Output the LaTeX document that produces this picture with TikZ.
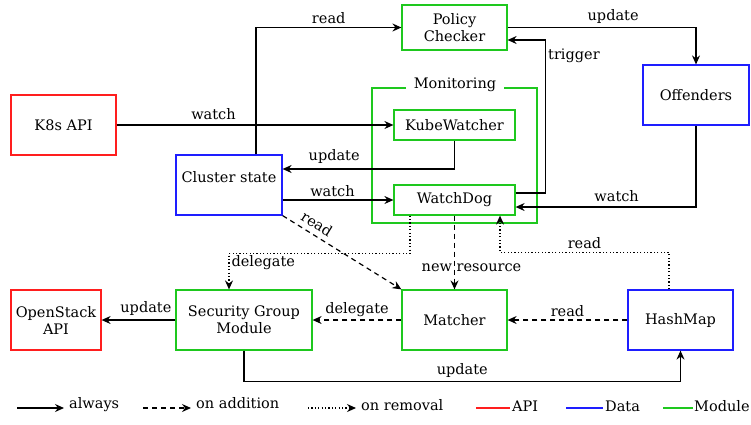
\documentclass[tikz,border=0pt]{standalone}
\usepackage{fontspec}
\setmainfont{DejaVu Serif}
\usetikzlibrary{arrows.meta}

\begin{document}
\begin{tikzpicture}[x=1pt,y=-1pt,
	font=\fontsize{14.5}{17}\selectfont,
	box/.style={draw, line width=1.2pt, inner sep=0pt, align=center},
	api/.style={box, draw=apired},
	data/.style={box, draw=datablue},
	module/.style={box, draw=modgreen},
	arr/.style={line width=1.2pt, -{Stealth[length=9pt,width=8pt,inset=3pt]}},
	adddash/.style={arr, dash pattern=on 5pt off 4pt},
	remdot/.style={arr, dash pattern=on 1.2pt off 2.2pt},
	lbl/.style={inner sep=2pt},
	legtxt/.style={anchor=west, inner ysep=1pt, inner xsep=5pt}]
	
	% Farben
	\definecolor{apired}{RGB}{255, 30, 30}     % API
	\definecolor{datablue}{RGB}{30, 30, 255}   % Data
	\definecolor{modgreen}{RGB}{30, 200, 30}   % Module
	
	\useasboundingbox (0,0) rectangle (751,424);
	
	% Monitoring-Rahmen
	\draw[modgreen, line width=1.2pt] (372,88) rectangle (537,223);
	\node[fill=white, inner xsep=8pt, inner ysep=1pt] (monitoring) at (455,85) {Monitoring};
	
	% Knoten
	\node[api, minimum width=105, minimum height=60] (k8s) at (63.5,125) {K8s API};
	\node[data, minimum width=106, minimum height=60] (cluster) at (229,185) {Cluster state\\\mbox{}};
	\node[module, minimum width=105, minimum height=45] (policy) at (454.5,27.5) {Policy\\Checker};
	\node[data, minimum width=106, minimum height=60] (offenders) at (696,95) {Offenders};
	\node[module, minimum width=121, minimum height=30] (kubewatcher) at (454.5,125) {KubeWatcher};
	\node[module, minimum width=121, minimum height=30] (watchdog) at (454.5,200) {WatchDog};
	\node[api, minimum width=90, minimum height=60] (openstack) at (56,320) {OpenStack\\API};
	\node[module, minimum width=136, minimum height=60] (sgm) at (244,320) {Security Group\\Module};
	\node[module, minimum width=105, minimum height=60] (matcher) at (454.5,320) {Matcher};
	\node[data, minimum width=105, minimum height=60] (hashmap) at (680.5,320) {HashMap};
	
	% Verbindungen (immer)
	\draw[arr] (k8s) -- node[lbl, above=3pt, pos=0.35] {watch} (kubewatcher);
	\draw[arr] ([xshift=27pt]cluster.north) |- node[lbl, above=1.5pt, pos=0.75] {read} (policy.west);
	\draw[arr] (kubewatcher.south) |- node[lbl, above=2.5pt, pos=0.85] {update} ([yshift=16pt]cluster.east);
	\draw[arr] ([yshift=-15pt]cluster.east) -- node[lbl, above=1pt, pos=0.45] {watch} (watchdog.west);
	\draw[arr] ([yshift=7pt]watchdog.east) -- ++(30,0) |- node[lbl, right, pos=0.45] {trigger} ([yshift=-12.5pt]policy.east);
	\draw[arr] (policy.east) -| node[lbl, above=1pt, pos=0.28] {update} (offenders.north);
	\draw[arr] (offenders.south) |- node[lbl, above=3pt, pos=0.72] {watch} ([yshift=-7pt]watchdog.east);
	\draw[arr] (sgm.west) -- node[lbl, above=1.5pt, pos=0.4] {update} (openstack.east);
	\draw[arr] (sgm.south) -- ++(0,31) -| node[lbl, above=1.5pt, pos=0.25] {update} (hashmap.south);
	
	% Verbindungen (bei Hinzufügen)
	\draw[adddash] (cluster.south east) -- node[lbl, above=3pt, sloped, pos=0.24] {read} (matcher.north west);
	\draw[adddash] (watchdog.south) -- node[lbl, pos=0.71, xshift=17pt] {new resource} (matcher.north);
	\draw[adddash] (matcher.west) -- node[lbl, above=1pt, pos=0.5] {delegate} (sgm.east);
	\draw[adddash] (hashmap.west) -- node[lbl, above=1pt, pos=0.5] {read} (matcher.east);
	
	% Verbindungen (bei Entfernen)
	\draw[remdot] ([xshift=-44.5pt]watchdog.south) -- ++(0,38) -| node[lbl, right, pos=0.62] {delegate} ([xshift=-15pt]sgm.north);
	\draw[remdot] ([xshift=-11.5pt]hashmap.north) -- ++(0,-37) -| node[lbl, above=1pt, pos=0.25] {read} ([xshift=45.5pt]watchdog.south);
	
	% Legende
	\coordinate (lalways) at (17,408);
	\coordinate (laddition) at (143,408);
	\coordinate (lremoval) at (308,408);
	\coordinate (lapi) at (476,408);
	\coordinate (ldata) at (566,408);
	\coordinate (lmodule) at (663,408);
	\node[legtxt] (always) at (64,405) {always};
	\node[legtxt] (addition) at (191,403) {on addition};
	\node[legtxt] (removal) at (356,405) {on removal};
	\node[legtxt, inner xsep=2pt] (apitxt) at (510,406) {API};
	\node[legtxt, inner xsep=2pt] (datatxt) at (603,406) {Data};
	\node[legtxt, inner xsep=1pt] (moduletxt) at (693,406) {Module};
	\draw[arr] (lalways) -- (always.west |- lalways);
	\draw[adddash] (laddition) -- (addition.west |- laddition);
	\draw[remdot] (lremoval) -- (removal.west |- lremoval);
	\draw[apired, line width=1.2pt] (lapi) -- (apitxt.west |- lapi);
	\draw[datablue, line width=1.2pt] (ldata) -- (datatxt.west |- ldata);
	\draw[modgreen, line width=1.2pt] (lmodule) -- (moduletxt.west |- lmodule);
\end{tikzpicture}
\end{document}
